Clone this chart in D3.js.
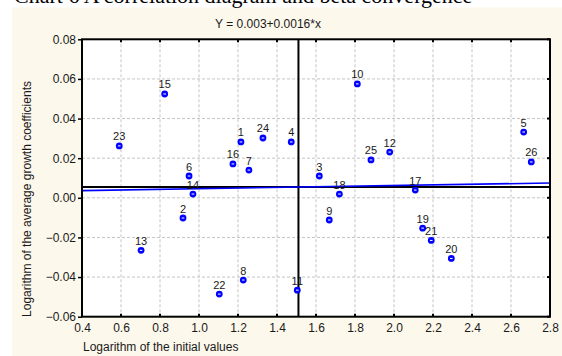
<!DOCTYPE html>
<html>
<head>
<meta charset="utf-8">
<script src="https://cdn.jsdelivr.net/npm/d3@7"></script>
<style>
  html, body { margin: 0; padding: 0; background: #ffffff; }
  svg { display: block; }
  text { font-family: Arial, "Liberation Sans", sans-serif; fill: #1a1a1a; }
</style>
</head>
<body>
<svg id="chart" width="562" height="356"></svg>
<script>
// Region labels and their coordinates
const regionIds = ["15","23","6","14","2","13","1","24","4","16","7","10","25","3","18","9","22","8","11","12","5","26","17","19","21","20"];
const initialLog = [0.824,0.591,0.949,0.969,0.918,0.703,1.215,1.328,1.473,1.174,1.256,1.812,1.882,1.617,1.720,1.668,1.104,1.227,1.504,1.978,2.665,2.704,2.109,2.147,2.191,2.294];
const growthLog = [0.0524,0.0262,0.0110,0.0019,-0.0102,-0.0265,0.0282,0.0302,0.0282,0.0171,0.0140,0.0575,0.0191,0.0110,0.0019,-0.0112,-0.0486,-0.0415,-0.0466,0.0231,0.0332,0.0181,0.0039,-0.0153,-0.0215,-0.0306];

// Axis ticks
const xTicks = [0.4,0.6,0.8,1.0,1.2,1.4,1.6,1.8,2.0,2.2,2.4,2.6,2.8];
const yTicks = [-0.06,-0.04,-0.02,0.00,0.02,0.04,0.06,0.08];

// Fitted line Y = a + b*x, and the crosshair through the mean point
const intercept = 0.003;
const slope = 0.0016;
const meanX = 1.51;
const meanY = 0.0054;

const titleText = "Chart 6 A correlation diagram and beta convergence";
const fitText = "Y = 0.003+0.0016*x";
const xLabel = "Logarithm of the initial values";
const yLabel = "Logarithm of the average growth coefficients";

const svg = d3.select("#chart");
const pL = 82, pR = 550, pT = 39.3, pB = 316.7;

const x = d3.scaleLinear().domain([0.4, 2.8]).range([pL, pR]);
const y = d3.scaleLinear().domain([-0.06, 0.08]).range([pB, pT]);

// panel background
svg.append("rect").attr("x", 12).attr("y", 7.5).attr("width", 550).attr("height", 349)
  .attr("fill", "#fdf8ec");

// title (runs off the top edge of the page)
svg.append("text").attr("x", 14).attr("y", 2.5)
  .style("font-family", "'Liberation Serif', 'Times New Roman', serif")
  .style("font-size", "22px").style("fill", "#000")
  .text(titleText);

// plot area
svg.append("rect").attr("x", pL).attr("y", pT)
  .attr("width", pR - pL).attr("height", pB - pT).attr("fill", "#ffffff");

// grid
const grid = svg.append("g");
grid.selectAll("line.gx").data(xTicks.slice(1, -1)).join("line")
  .attr("x1", d => x(d)).attr("x2", d => x(d)).attr("y1", pT).attr("y2", pB)
  .attr("stroke", "#c4c4c4").attr("stroke-width", 1).attr("stroke-dasharray", "3,2");
grid.selectAll("line.gy").data(yTicks.slice(1, -1)).join("line")
  .attr("y1", d => y(d)).attr("y2", d => y(d)).attr("x1", pL).attr("x2", pR)
  .attr("stroke", "#c4c4c4").attr("stroke-width", 1).attr("stroke-dasharray", "3,2");

// axes
const xAxis = d3.axisBottom(x).tickValues(xTicks).tickFormat(d3.format(".1f")).tickSize(0).tickPadding(7);
const yAxis = d3.axisLeft(y).tickValues(yTicks).tickFormat(d3.format(".2f")).tickSize(4).tickPadding(2);

const gx = svg.append("g").attr("transform", `translate(0,${pB})`).call(xAxis);
const gy = svg.append("g").attr("transform", `translate(${pL},0)`).call(yAxis);
[gx, gy].forEach(g => {
  g.select(".domain").remove();
  g.selectAll("text").style("font-size", "12px").style("font-family", "Arial, 'Liberation Sans', sans-serif").attr("fill", "#1a1a1a");
  g.selectAll(".tick line").attr("stroke", "#000").attr("stroke-width", 1.5);
});

// inner ticks on top, bottom and right edges
const ticks = svg.append("g").attr("stroke", "#000").attr("stroke-width", 2);
ticks.selectAll("line.t").data(xTicks).join("line")
  .attr("x1", d => x(d)).attr("x2", d => x(d)).attr("y1", pT).attr("y2", pT + 3);
ticks.selectAll("line.b").data(xTicks).join("line")
  .attr("x1", d => x(d)).attr("x2", d => x(d)).attr("y1", pB).attr("y2", pB - 3);
ticks.selectAll("line.r").data(yTicks).join("line")
  .attr("y1", d => y(d)).attr("y2", d => y(d)).attr("x1", pR).attr("x2", pR - 3);

// mean crosshair
svg.append("line").attr("x1", x(meanX)).attr("x2", x(meanX)).attr("y1", pT).attr("y2", pB)
  .attr("stroke", "#000").attr("stroke-width", 2);
svg.append("line").attr("x1", pL).attr("x2", pR).attr("y1", y(meanY)).attr("y2", y(meanY))
  .attr("stroke", "#000").attr("stroke-width", 2);

// regression line
svg.append("line")
  .attr("x1", x(0.4)).attr("y1", y(intercept + slope * 0.4))
  .attr("x2", x(2.8)).attr("y2", y(intercept + slope * 2.8))
  .attr("stroke", "#0000ff").attr("stroke-width", 1.6);

// frame
svg.append("rect").attr("x", pL).attr("y", pT)
  .attr("width", pR - pL).attr("height", pB - pT)
  .attr("fill", "none").attr("stroke", "#000").attr("stroke-width", 2);

// points
const pts = svg.append("g");
const data = regionIds.map((id, i) => ({ id, vx: initialLog[i], vy: growthLog[i] }));
const pg = pts.selectAll("g").data(data).join("g")
  .attr("transform", d => `translate(${x(d.vx)},${y(d.vy)})`);
pg.append("circle").attr("r", 3.4).attr("fill", "#0000ff");
pg.append("line").attr("x1", -1.3).attr("x2", 1.3).attr("y1", 0).attr("y2", 0)
  .attr("stroke", "#ffffff").attr("stroke-width", 1);
pg.append("text").attr("y", -5.5).attr("text-anchor", "middle")
  .style("font-size", "11px").text(d => d.id);

// equation of the fit
svg.append("text").attr("x", 268).attr("y", 27.5).attr("text-anchor", "middle")
  .style("font-size", "12px").text(fitText);

// axis titles
svg.append("text").attr("x", 83).attr("y", 351).style("font-size", "12px").text(xLabel);
svg.append("text").attr("transform", "translate(31,199) rotate(-90)")
  .attr("text-anchor", "middle").style("font-size", "12px").text(yLabel);
</script>
</body>
</html>
